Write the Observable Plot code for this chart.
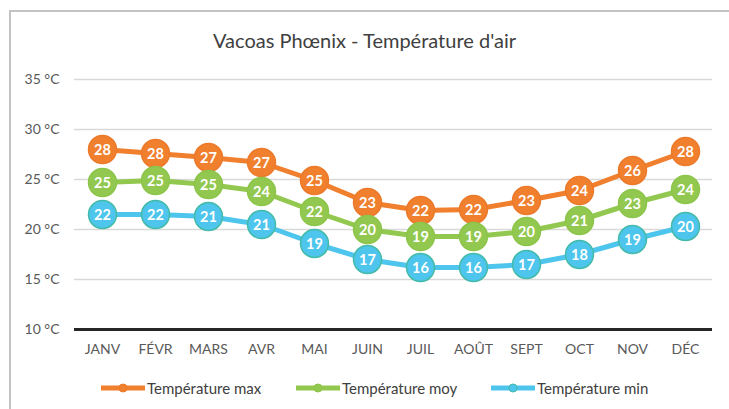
<!DOCTYPE html>
<html><head><meta charset="utf-8">
<script src="https://cdn.jsdelivr.net/npm/d3@7"></script>
<script src="https://cdn.jsdelivr.net/npm/@observablehq/plot@0.6"></script>
<style>
body{margin:0;background:#fff;font-family:Lato,"Open Sans",sans-serif;}
#wrap{position:relative;width:729px;height:409px;overflow:hidden;background:#fff;}
#frame{position:absolute;left:9px;top:10px;width:760px;height:440px;border:2px solid #c3c3c3;box-sizing:border-box;}
#title{position:absolute;left:0;width:729px;top:28px;text-align:center;font-size:20px;color:#404040;}
#legend{position:absolute;left:0;top:378px;width:729px;height:20px;font-size:15px;color:#404040;}
#legend .item{position:absolute;top:0;display:flex;align-items:center;}
#chart{position:absolute;left:0;top:0;}
</style></head>
<body>
<div id="wrap">
<div id="frame"></div>
<div id="chart"></div>
<div id="title"></div>
<div id="legend"></div>
</div>
<script>
const months = ["JANV","FÉVR","MARS","AVR","MAI","JUIN","JUIL","AOÛT","SEPT","OCT","NOV","DÉC"];
const tMax = [28.0, 27.6, 27.2, 26.7, 24.9, 22.7, 21.9, 22.0, 22.9, 23.9, 25.9, 27.8];
const tMoy = [24.7, 24.9, 24.5, 23.8, 21.8, 20.0, 19.3, 19.3, 19.8, 20.9, 22.6, 24.0];
const tMin = [21.5, 21.5, 21.3, 20.5, 18.6, 17.0, 16.2, 16.2, 16.5, 17.5, 19.0, 20.3];
const seriesNames = ["Température max","Température moy","Température min"];
const yTicks = [10, 15, 20, 25, 30, 35];
const titleText = "Vacoas Phœnix - Température d'air";

const fills = ["#F07F2E", "#92C84F", "#4DC5EC"];
const strokes = ["#EC7A2A", "#8CC54A", "#43BBA8"];
const lineColors = ["#F07F2E", "#92C84F", "#4DC5EC"];

const seriesVals = [tMax, tMoy, tMin];
const data = seriesVals.map((vals, s) => months.map((m, i) => ({month: m, value: vals[i], series: seriesNames[s], label: String(Math.round(vals[i]))})));

const marks = [
  Plot.ruleY(yTicks.filter(t => t > 10), {stroke: "#d9d9d9", strokeWidth: 1.5}),
  Plot.ruleY([10], {stroke: "#262626", strokeWidth: 3})
];
data.forEach((d, s) => {
  marks.push(Plot.line(d, {x: "month", y: "value", stroke: lineColors[s], strokeWidth: 5}));
  marks.push(Plot.dot(d, {x: "month", y: "value", r: 14, fill: fills[s], stroke: strokes[s], strokeWidth: 1.5}));
  marks.push(Plot.text(d, {x: "month", y: "value", text: "label", fill: "white", fontWeight: "bold", fontSize: 14.5, dy: 0.5}));
});

const chart = Plot.plot({
  width: 729, height: 409,
  marginTop: 79, marginBottom: 80, marginLeft: 74, marginRight: 17,
  style: {fontFamily: "Lato, 'Open Sans', sans-serif", fontSize: "14px", color: "#595959", background: "transparent"},
  x: {type: "point", domain: months, padding: 0.5, label: null, tickSize: 0, tickPadding: 15},
  y: {domain: [10, 35], ticks: yTicks, tickFormat: d => d + " °C", label: null, tickSize: 0, tickPadding: 15},
  marks
});
document.getElementById("chart").appendChild(chart);
document.getElementById("title").textContent = titleText;

const legend = document.getElementById("legend");
const legX = [100, 295, 490];
seriesNames.forEach((n, s) => {
  const it = document.createElement("div");
  it.className = "item";
  it.style.left = legX[s] + "px";
  it.innerHTML = `<svg width="46" height="20"><line x1="1" x2="45" y1="10" y2="10" stroke="${lineColors[s]}" stroke-width="5"/><circle cx="23" cy="10" r="4" fill="${fills[s]}" stroke="${strokes[s]}" stroke-width="1"/></svg><span style="margin-left:1px">${n}</span>`;
  legend.appendChild(it);
});
</script>
</body></html>
